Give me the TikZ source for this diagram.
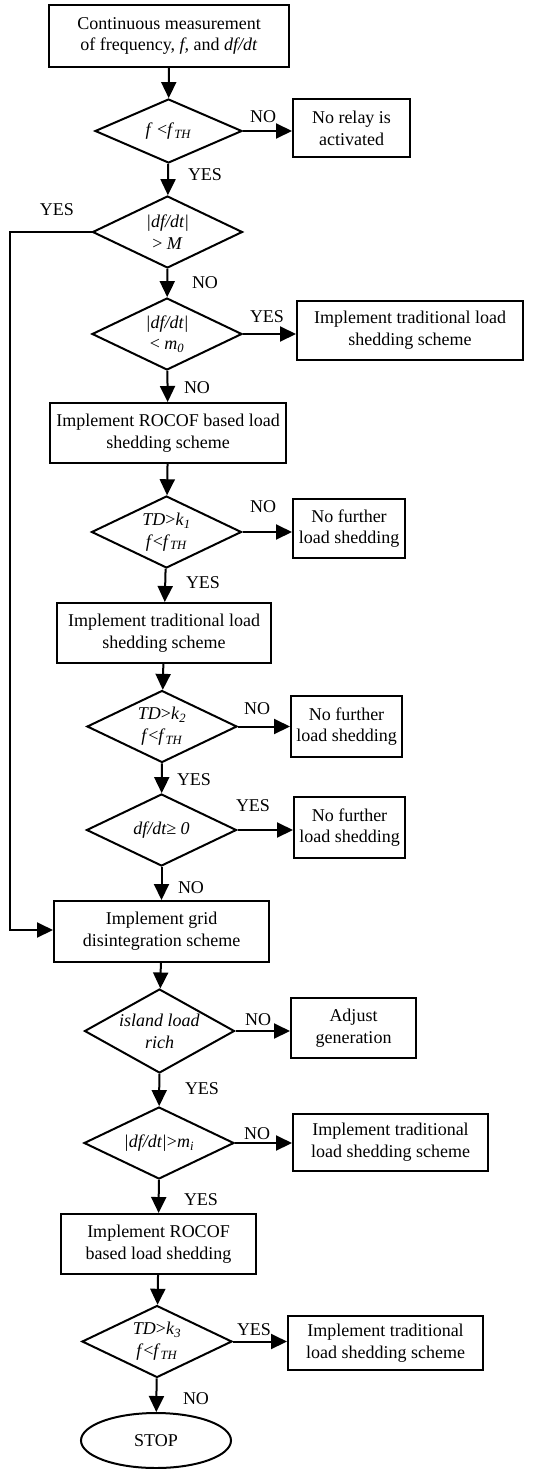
\documentclass[tikz,border=0pt]{standalone}
\usepackage{fontspec}
\setmainfont{Liberation Serif}
\usetikzlibrary{shapes.geometric,arrows.meta}

\tikzset{
	blok/.style = { draw, line width = 2pt, align = center, inner sep = 0pt },
	romb/.style = { draw, diamond, aspect = 2, line width = 2pt, align = center, inner sep = 0pt, minimum width = 150pt, minimum height = 72pt },
	strelka/.style = { line width = 2pt, -{Triangle[ length = 16pt, width = 15pt ]} },
	metka/.style = { inner sep = 0pt },
}

\begin{document}
\begin{tikzpicture}[x = 1pt, y = -1pt, font = \fontsize{18}{21.7}\selectfont]
		\useasboundingbox ( 0, 0 ) rectangle ( 546, 1469 );

		% блоки
		\node [blok, minimum width = 240pt, minimum height = 62pt] (izm) at ( 169, 36 ) {Continuous measurement\\of frequency, \textit{f,} and \textit{df/dt}};
		\node [blok, minimum width = 117pt, minimum height = 58pt] (rele) at ( 351.5, 128 ) {No relay is\\activated};
		\node [blok, minimum width = 226pt, minimum height = 59pt] (trad1) at ( 410, 330.5 ) {Implement traditional load\\shedding scheme};
		\node [blok, minimum width = 236pt, minimum height = 60pt] (rocof1) at ( 168, 433 ) {Implement ROCOF based load\\shedding scheme};
		\node [blok, minimum width = 112pt, minimum height = 59pt] (net1) at ( 349, 528.5 ) {No further\\load shedding};
		\node [blok, minimum width = 214pt, minimum height = 60pt] (trad2) at ( 164, 633 ) {Implement traditional load\\shedding scheme};
		\node [blok, minimum width = 111pt, minimum height = 61pt] (net2) at ( 346.5, 726.5 ) {No further\\load shedding};
		\node [blok, minimum width = 111pt, minimum height = 61pt] (net3) at ( 349.5, 827.5 ) {No further\\load shedding};
		\node [blok, minimum width = 215pt, minimum height = 61pt] (setka) at ( 161.5, 931.5 ) {Implement grid\\disintegration scheme};
		\node [blok, minimum width = 125pt, minimum height = 60pt] (gen) at ( 353.5, 1028 ) {Adjust\\generation};
		\node [blok, minimum width = 195pt, minimum height = 57pt] (trad3) at ( 390.5, 1142.5 ) {Implement traditional\\load shedding scheme};
		\node [blok, minimum width = 195pt, minimum height = 60pt] (rocof2) at ( 158.5, 1244 ) {Implement ROCOF\\based load shedding};
		\node [blok, minimum width = 195pt, minimum height = 54pt] (trad4) at ( 385.5, 1343 ) {Implement traditional\\load shedding scheme};
		\node [blok, ellipse, minimum width = 150pt, minimum height = 55pt] (stop) at ( 156, 1440.5 ) {STOP};

		% ромбы
		\node [romb, minimum width = 147pt, minimum height = 64pt] (r1) at ( 168.5, 131 ) {\textit{f} <\textit{f}\textsubscript{\textit{TH}}};
		\node [romb] (r2) at ( 167.5, 232 ) {\textit{|df/dt|}\\> \textit{M}};
		\node [romb] (r3) at ( 167, 334 ) {\textit{|df/dt|}\\< \textit{m}\textsubscript{\textit{0}}};
		\node [romb] (r4) at ( 166.5, 532 ) {\textit{TD}>\textit{k}\textsubscript{\textit{1}}\\\textit{f}<\textit{f}\textsubscript{\textit{TH}}};
		\node [romb] (r5) at ( 162, 726.5 ) {\textit{TD}>\textit{k}\textsubscript{\textit{2}}\\\textit{f}<\textit{f}\textsubscript{\textit{TH}}};
		\node [romb] (r6) at ( 161.5, 830 ) {\textit{df/dt≥ 0}};
		\node [romb, minimum height = 84pt] (r7) at ( 159.5, 1031 ) {\textit{island load}\\\textit{rich}};
		\node [romb] (r8) at ( 159, 1143 ) {\textit{|df/dt|}>\textit{m}\textsubscript{\textit{i}}};
		\node [romb] (r9) at ( 157, 1341.5 ) {\textit{TD}>\textit{k}\textsubscript{\textit{3}}\\\textit{f}<\textit{f}\textsubscript{\textit{TH}}};

		% обход к блоку setka
		\coordinate (obhod) at ( 10, 930 );

		% стрелки
		\draw [strelka] (izm) -- (r1);
		\draw [strelka] (r1) -- (r1 -| rele.west);
		\draw [strelka] (r1) -- (r2);
		\draw [strelka] (r2.west) -| (obhod) -- (obhod -| setka.west);
		\draw [strelka] (r2) -- (r3);
		\draw [strelka] (r3) -- (r3 -| trad1.west);
		\draw [strelka] (r3) -- (rocof1);
		\draw [strelka] (rocof1) -- (r4);
		\draw [strelka] (r4) -- (r4 -| net1.west);
		\draw [strelka] (r4) -- (trad2);
		\draw [strelka] (trad2) -- (r5);
		\draw [strelka] (r5) -- (r5 -| net2.west);
		\draw [strelka] (r5) -- (r6);
		\draw [strelka] (r6) -- (r6 -| net3.west);
		\draw [strelka] (r6) -- (setka);
		\draw [strelka] (setka) -- (r7);
		\draw [strelka] (r7) -- (r7 -| gen.west);
		\draw [strelka] (r7) -- (r8);
		\draw [strelka] (r8) -- (r8 -| trad3.west);
		\draw [strelka] (r8) -- (rocof2);
		\draw [strelka] (rocof2) -- (r9);
		\draw [strelka] (r9) -- (r9 -| trad4.west);
		\draw [strelka] (r9) -- (stop);

		% подписи
		\node [metka] (m1) at ( 263, 117 ) {NO};
		\node [metka] (m2) at ( 205, 175 ) {YES};
		\node [metka] (m3) at ( 57, 210 ) {YES};
		\node [metka] (m4) at ( 205, 283 ) {NO};
		\node [metka] (m5) at ( 267, 317 ) {YES};
		\node [metka] (m6) at ( 197, 388 ) {NO};
		\node [metka] (m7) at ( 263, 507 ) {NO};
		\node [metka] (m8) at ( 203, 583 ) {YES};
		\node [metka] (m9) at ( 257, 709 ) {NO};
		\node [metka] (m10) at ( 194, 780 ) {YES};
		\node [metka] (m11) at ( 253, 806 ) {YES};
		\node [metka] (m12) at ( 191, 888 ) {NO};
		\node [metka] (m13) at ( 258, 1020 ) {NO};
		\node [metka] (m14) at ( 202, 1089 ) {YES};
		\node [metka] (m15) at ( 257, 1134 ) {NO};
		\node [metka] (m16) at ( 201, 1200 ) {YES};
		\node [metka] (m17) at ( 254, 1330 ) {YES};
		\node [metka] (m18) at ( 196, 1399 ) {NO};
	\end{tikzpicture}
\end{document}
